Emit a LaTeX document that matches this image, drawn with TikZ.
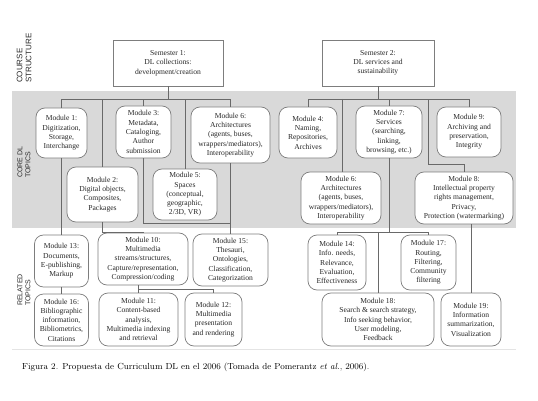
\documentclass[tikz,border=0pt]{standalone}
\usepackage{fontspec}
\newfontfamily\nodefont{Liberation Serif}
\newfontfamily\sidefont{Liberation Sans}
\definecolor{bandgray}{RGB}{217,217,217}
\definecolor{edgegray}{RGB}{125,125,125}
\definecolor{wiregray}{RGB}{105,105,105}
\definecolor{ink}{RGB}{40,40,40}
\tikzset{
  modbox/.style={draw=edgegray, fill=white, rounded corners=9pt, line width=0.7pt, align=center, inner sep=1pt,
    font=\nodefont\fontsize{7.6}{9.3}\selectfont, text=ink},
  sembox/.style={modbox, rounded corners=0pt},
  wire/.style={draw=wiregray, line width=0.7pt},
  sidelbl/.style={rotate=90, anchor=west, align=left, inner sep=0pt, font=\sidefont\fontsize{7}{8}\selectfont, text=ink},
}
\begin{document}
\begin{tikzpicture}[x=1pt, y=-1pt]
\useasboundingbox (0,0) rectangle (538,401);
% band
\fill[bandgray] (12,91) rectangle (516,228);
\draw[draw={rgb,255:red,228;green,228;blue,228}, line width=0.6pt] (12,349) -- (516,349);
% side labels
\node[sidelbl, font=\sidefont\fontsize{8}{9}\selectfont] (lcs) at (24,83) {COURSE\\STRUCTURE};
\node[sidelbl] (lcd) at (24,178) {CORE DL\\TOPICS};
\node[sidelbl] (lrt) at (24,306) {RELATED\\TOPICS};
% semesters
\node[sembox, minimum width=110pt, minimum height=46pt] (s1) at (168,63) {Semester 1:\\DL collections:\\development/creation};
\node[sembox, minimum width=112pt, minimum height=46pt] (s2) at (378,63) {Semester 2:\\DL services and\\sustainability};
% core modules
\node[modbox, minimum width=51pt, minimum height=50pt] (m1) at (61.5,133) {Module 1:\\Digitization,\\Storage,\\Interchange};
\node[modbox, minimum width=55pt, minimum height=52pt] (m3) at (143.5,132) {Module 3:\\Metadata,\\Cataloging,\\Author\\submission};
\node[modbox, minimum width=79pt, minimum height=56pt] (m6a) at (230.5,135) {Module 6:\\Architectures\\(agents, buses,\\wrappers/mediators),\\Interoperability};
\node[modbox, minimum width=58pt, minimum height=51pt] (m4) at (308,132.5) {Module 4:\\Naming,\\Repositories,\\Archives};
\node[modbox, minimum width=66pt, minimum height=52pt] (m7) at (389,132) {Module 7:\\Services\\(searching,\\linking,\\browsing, etc.)};
\node[modbox, minimum width=64pt, minimum height=50pt] (m9) at (469,132) {Module 9:\\Archiving and\\preservation,\\Integrity};
\node[modbox, minimum width=71pt, minimum height=55pt] (m2) at (102.5,194.5) {Module 2:\\Digital objects,\\Composites,\\Packages};
\node[modbox, minimum width=64pt, minimum height=51pt] (m5) at (185,194.5) {Module 5:\\Spaces\\(conceptual,\\geographic,\\2/3D, VR)};
\node[modbox, minimum width=80pt, minimum height=52pt] (m6b) at (341,198) {Module 6:\\Architectures\\(agents, buses,\\wrappers/mediators),\\Interoperability};
\node[modbox, minimum width=98pt, minimum height=52pt] (m8) at (464,198) {Module 8:\\Intellectual property\\rights management,\\Privacy,\\Protection (watermarking)};
% related modules
\node[modbox, minimum width=54pt, minimum height=52pt] (m13) at (61.5,261) {Module 13:\\Documents,\\E-publishing,\\Markup};
\node[modbox, minimum width=90pt, minimum height=52pt] (m10) at (143,259) {Module 10:\\Multimedia\\streams/structures,\\Capture/representation,\\Compression/coding};
\node[modbox, minimum width=75pt, minimum height=52pt] (m15) at (230.5,260) {Module 15:\\Thesauri,\\Ontologies,\\Classification,\\Categorization};
\node[modbox, minimum width=54pt, minimum height=52pt] (m16) at (61.5,320) {Module 16:\\Bibliographic\\information,\\Bibliometrics,\\Citations};
\node[modbox, minimum width=79pt, minimum height=53pt] (m11) at (138.5,319.5) {Module 11:\\Content-based\\analysis,\\Multimedia indexing\\and retrieval};
\node[modbox, minimum width=57pt, minimum height=53pt] (m12) at (213.5,319.5) {Module 12:\\Multimedia\\presentation\\and rendering};
\node[modbox, minimum width=58pt, minimum height=55pt] (m14) at (337,262.5) {Module 14:\\Info. needs,\\Relevance,\\Evaluation,\\Effectiveness};
\node[modbox, minimum width=55pt, minimum height=55pt] (m17) at (428.5,262.5) {Module 17:\\Routing,\\Filtering,\\Community\\filtering};
\node[modbox, minimum width=112pt, minimum height=53pt] (m18) at (378,319.5) {Module 18:\\Search \& search strategy,\\Info seeking behavior,\\User modeling,\\Feedback};
\node[modbox, minimum width=60pt, minimum height=53pt] (m19) at (471,319.5) {Module 19:\\Information\\summarization,\\Visualization};
% junction coordinates
\coordinate (b1) at (168,99);
\coordinate (b2) at (378,99);
\coordinate (c6) at (342,99);
\coordinate (j8) at (428,164);
\coordinate (b7) at (389,232);
\coordinate (j10) at (102.5,232);
\coordinate (j15) at (143.5,223);
\coordinate (j11) at (138.5,289.5);
% semester 1 tree
\draw[wire] (s1.south) -- (b1);
\draw[wire] (m1.north) |- (b1);
\draw[wire] (m6a.north) |- (b1);
\draw[wire] (m2.north) -- (m2.north |- b1);
\draw[wire] (m3.north) -- (m3.north |- b1);
\draw[wire] (m5.north) -- (m5.north |- b1);
% semester 2 tree
\draw[wire] (s2.south) -- (b2);
\draw[wire] (m4.north) |- (b2);
\draw[wire] (m9.north) |- (b2);
\draw[wire] (m7.north) -- (m7.north |- b2);
\draw[wire] (c6) -- (c6 |- m6b.north);
\draw[wire] (m8.north) |- (j8) -- (j8 |- b2);
% core to related
\draw[wire] (m1.south) -- (m1.south |- m13.north);
\draw[wire] (m13.south) -- (m13.south |- m16.north);
\draw[wire] (m2.south) -- (j10) -| (m10.north);
\draw[wire] (m3.south) -- (j15) -| (m15.north);
\draw[wire] (m6a.south) -- (m6a.south |- m15.north);
\draw[wire] (m10.south -| m11.north) -- (m11.north);
\draw[wire] (m12.north) |- (j11);
\draw[wire] (m7.south) -- (b7);
\draw[wire] (m14.north) |- (b7);
\draw[wire] (m17.north) |- (b7);
\draw[wire] (m18.north) -- (m18.north |- b7);
\draw[wire] (m8.south -| m19.north) -- (m19.north);
% caption
\node[anchor=base west, inner sep=0pt, font=\fontsize{8.8}{10}\selectfont] (cap) at (22,369) {Figura 2. Propuesta de Curriculum DL en el 2006 (Tomada de Pomerantz \textit{et al.}, 2006).};
\end{tikzpicture}
\end{document}
